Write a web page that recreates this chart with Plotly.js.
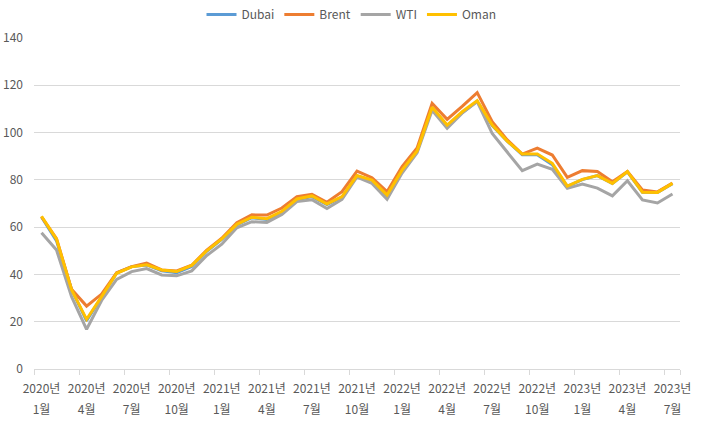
<!DOCTYPE html>
<html>
<head>
<meta charset="utf-8">
<script src="https://cdn.plot.ly/plotly-3.0.1.min.js"></script>
<style>html,body{margin:0;padding:0;background:#fff;}#chart{width:703px;height:425px;}</style>
</head>
<body>
<div id="chart"></div>
<script>
const months = [
 "2020-01","2020-02","2020-03","2020-04","2020-05","2020-06","2020-07","2020-08","2020-09","2020-10","2020-11","2020-12",
 "2021-01","2021-02","2021-03","2021-04","2021-05","2021-06","2021-07","2021-08","2021-09","2021-10","2021-11","2021-12",
 "2022-01","2022-02","2022-03","2022-04","2022-05","2022-06","2022-07","2022-08","2022-09","2022-10","2022-11","2022-12",
 "2023-01","2023-02","2023-03","2023-04","2023-05","2023-06","2023-07"
];
const dubai = [64.3,54.2,33.6,20.4,30.5,40.6,43.3,44.0,41.5,40.7,43.4,49.8,
 54.8,60.9,64.0,63.2,66.3,71.6,72.9,69.5,72.6,81.6,79.8,73.2,
 83.5,92.0,110.6,102.8,108.4,113.2,103.0,96.4,90.6,90.6,86.4,77.2,
 80.1,81.8,78.5,83.4,74.8,74.7,78.4];
const brent = [64.4,55.1,33.7,26.6,31.7,40.7,43.3,44.8,41.9,41.5,43.9,50.3,
 55.3,61.9,65.2,65.1,68.1,72.9,73.9,70.5,75.0,83.7,80.9,75.0,
 85.6,93.5,112.4,105.6,111.1,116.9,104.6,96.9,90.9,93.4,90.5,81.1,
 83.9,83.5,79.2,83.5,75.7,74.9,78.6];
const wti = [57.6,50.3,30.6,16.8,29.0,37.9,41.2,42.5,39.8,39.4,41.5,48.0,
 52.8,59.7,62.3,62.0,65.4,70.8,71.6,67.9,71.7,81.2,78.5,71.8,
 82.9,91.5,109.4,101.8,108.2,113.1,99.6,91.9,83.9,86.7,84.5,76.4,
 78.2,76.5,73.2,79.6,71.5,70.2,74.0];
const oman = [64.6,54.9,33.5,21.0,30.6,40.5,43.2,44.1,41.9,41.2,43.8,50.0,
 55.0,61.2,64.2,63.6,66.7,71.9,73.2,69.8,72.9,81.8,79.9,73.6,
 84.1,92.2,110.7,103.2,108.8,113.5,103.2,96.4,90.9,90.9,87.0,77.4,
 80.2,81.8,78.5,83.5,74.8,74.7,78.5];
const seriesNames = ["Dubai","Brent","WTI","Oman"];
const seriesColors = ["#5B9BD5","#ED7D31","#A5A5A5","#FFC000"];
const seriesData = [dubai, brent, wti, oman];
const yTicks = [0,20,40,60,80,100,120,140];

const idx = months.map((m,i)=>i);
const labelIdx = idx.filter(i=>i%3===0);
const yearText = labelIdx.map(i=>months[i].slice(0,4)+"년");
const monthText = labelIdx.map(i=>parseInt(months[i].slice(5),10)+"월");
const boundaryTicks = labelIdx.map(i=>i-0.5).concat([months.length-0.5]);

const traces = seriesNames.map((n,k)=>({
  type:'scatter', mode:'lines', name:n, x:idx, y:seriesData[k],
  line:{color:seriesColors[k], width:3},
  hoverinfo:'skip'
}));
traces.push({type:'scatter', mode:'lines', x:[], y:[], xaxis:'x2', showlegend:false, hoverinfo:'skip'});
traces.push({type:'scatter', mode:'lines', x:[], y:[], xaxis:'x3', showlegend:false, hoverinfo:'skip'});

const font = {family:'"Noto Sans CJK KR", "Noto Sans", sans-serif', size:12, color:'#595959'};
const xr = [-0.5, months.length-0.5];
const layout = {
  width:703, height:425,
  margin:{l:34, r:23, t:38, b:56},
  paper_bgcolor:'#ffffff', plot_bgcolor:'#ffffff',
  font: font,
  showlegend:true,
  legend:{orientation:'h', xref:'container', yref:'container', x:0.5, xanchor:'center', y:1.0, yanchor:'top',
    font:{family:font.family, size:12, color:'#595959'}, itemwidth:30, tracegroupgap:0, bgcolor:'rgba(0,0,0,0)'},
  xaxis:{range:xr, tickmode:'array', tickvals:labelIdx, ticktext:yearText, ticks:'', showgrid:false,
    zeroline:false, showline:true, linecolor:'#D9D9D9', linewidth:1, ticklabelstandoff:9, fixedrange:true,
    tickfont:{family:font.family, size:12, color:'#595959'}},
  xaxis2:{range:xr, overlaying:'x', side:'bottom', tickmode:'array', tickvals:labelIdx, ticktext:monthText,
    ticks:'', showgrid:false, zeroline:false, showline:false, ticklabelstandoff:32, fixedrange:true,
    tickfont:{family:font.family, size:12, color:'#595959'}},
  xaxis3:{range:xr, overlaying:'x', side:'bottom', tickmode:'array', tickvals:boundaryTicks, ticks:'outside',
    ticklen:5, tickcolor:'#D9D9D9', tickwidth:1, showticklabels:false, showgrid:false, zeroline:false, showline:false, fixedrange:true},
  yaxis:{range:[0,140], tickmode:'array', tickvals:yTicks, ticks:'', showgrid:true, gridcolor:'#D9D9D9', gridwidth:1,
    zeroline:false, showline:false, ticklabelstandoff:10, fixedrange:true,
    tickfont:{family:font.family, size:12, color:'#595959'}}
};
Plotly.newPlot('chart', traces, layout, {staticPlot:true, displayModeBar:false});
</script>
</body>
</html>
